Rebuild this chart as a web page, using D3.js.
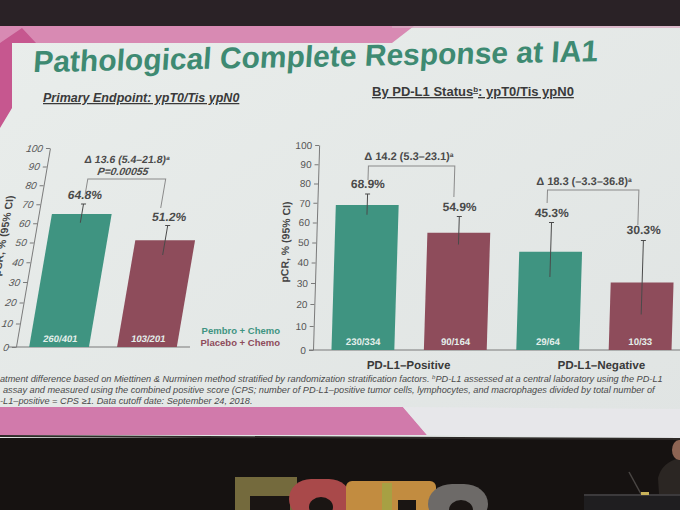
<!DOCTYPE html>
<html lang="en">
  <head>
    <meta charset="utf-8">
    <title>Pathological Complete Response at IA1</title>
    <script src="https://cdn.jsdelivr.net/npm/d3@7"></script>
    <style>
      body { margin: 0; background: #1b1716; }
      svg { display: block; font-family: "Liberation Sans", Arial, sans-serif; }
      .tick text { font-size: 10px; fill: #555; }
      .tick line, .domain { stroke: #7a7a7a; }
    </style>
  </head>
  <body>
    <div id="chart"></div>

    <script>
      // ---- data ----
      var arms = ["Pembro + Chemo", "Placebo + Chemo"];
      var armColors = ["#3f9481", "#8e4c5b"];

      // primary endpoint (ITT)
      var ittValues = [64.8, 51.2];
      var ittLow = [60.3, 43.6];
      var ittHigh = [70.1, 58.8];
      var ittCounts = ["260/401", "103/201"];

      // by PD-L1 status
      var subgroups = ["PD-L1–Positive", "PD-L1–Negative"];
      var pdBars = ["pos-pembro", "pos-placebo", "neg-pembro", "neg-placebo"];
      var pdArm = [0, 1, 0, 1];
      var pdValues = [68.9, 54.9, 45.3, 30.3];
      var pdLow = [64.0, 49.0, 33.0, 15.2];
      var pdHigh = [74.5, 63.0, 60.0, 51.0];
      var pdCounts = ["230/334", "90/164", "29/64", "10/33"];

      var deltas = ["Δ 13.6 (5.4–21.8)", "Δ 14.2 (5.3–23.1)", "Δ 18.3 (–3.3–36.8)"];
      var pValue = "P=0.00055";
      var yTicks = [0, 10, 20, 30, 40, 50, 60, 70, 80, 90, 100];

      var footnotes = [
        "atment difference based on Miettinen & Nurminen method stratified by randomization stratification factors. |b|PD-L1 assessed at a central laboratory using the PD-L1",
        "assay and measured using the combined positive score (CPS; number of PD-L1–positive tumor cells, lymphocytes, and macrophages divided by total number of",
        "-L1–positive = CPS ≥1. Data cutoff date: September 24, 2018."
      ];

      var svg = d3.select("#chart").append("svg")
          .attr("width", 680)
          .attr("height", 510);

      // ---- room / screen backdrop ----
      svg.append("rect").attr("width", 680).attr("height", 510).attr("fill", "#161211");
      svg.append("rect").attr("width", 680).attr("height", 27).attr("fill", "#2a2226");

      var grad = svg.append("defs").append("linearGradient")
          .attr("id", "slide").attr("x1", 0).attr("y1", 0).attr("x2", 1).attr("y2", 1);
      grad.append("stop").attr("offset", 0).attr("stop-color", "#e9edeb");
      grad.append("stop").attr("offset", 1).attr("stop-color", "#e0e4e3");

      svg.append("rect").attr("x", 0).attr("y", 26).attr("width", 680).attr("height", 412)
          .attr("fill", "url(#slide)");

      // top pink strip
      svg.append("polygon").attr("points", "0,26 414,26 392,43 0,43").attr("fill", "#d88ab3");
      svg.append("polygon").attr("points", "0,43 22,28 36,43 12,43 12,108 0,128").attr("fill", "#c6578f");
      svg.append("line").attr("x1", 392).attr("y1", 27).attr("x2", 680).attr("y2", 27)
          .attr("stroke", "#d9a9c1").attr("stroke-width", 1.5);

      // bottom pink strip
      svg.append("polygon").attr("points", "0,407 403,407 427,435 0,435").attr("fill", "#d17aab");
      svg.append("polygon").attr("points", "403,407 680,409 680,438 427,435").attr("fill", "#e7e7ea");
      svg.append("line").attr("x1", 0).attr("y1", 436).attr("x2", 680).attr("y2", 439)
          .attr("stroke", "#2e2a28").attr("stroke-width", 2);

      // ESMO letters on the stage
      var stage = svg.append("g");
      stage.append("rect").attr("x", 235).attr("y", 477).attr("width", 62).attr("height", 40).attr("fill", "#746a3d");
      stage.append("rect").attr("x", 250).attr("y", 496).attr("width", 40).attr("height", 20).attr("fill", "#1a1513");
      stage.append("rect").attr("x", 289).attr("y", 479).attr("width", 62).attr("height", 40).attr("rx", 22).attr("fill", "#a9494a");
      stage.append("ellipse").attr("cx", 321).attr("cy", 507).attr("rx", 12).attr("ry", 10).attr("fill", "#1a1513");
      stage.append("rect").attr("x", 346).attr("y", 481).attr("width", 90).attr("height", 40).attr("rx", 6).attr("fill", "#c28c40");
      stage.append("rect").attr("x", 382).attr("y", 483).attr("width", 10).attr("height", 30).attr("fill", "#a7a043");
      stage.append("rect").attr("x", 398).attr("y", 500).attr("width", 18).attr("height", 12).attr("fill", "#1a1513");
      stage.append("rect").attr("x", 428).attr("y", 484).attr("width", 60).attr("height", 40).attr("rx", 24).attr("fill", "#6d6a68");
      stage.append("ellipse").attr("cx", 461).attr("cy", 510).attr("rx", 12).attr("ry", 10).attr("fill", "#1a1513");

      // podium and speaker
      stage.append("line").attr("x1", 629).attr("y1", 472).attr("x2", 641).attr("y2", 494)
          .attr("stroke", "#4a4644").attr("stroke-width", 1.5);
      stage.append("path").attr("d", "M660,510 L658,478 Q662,462 680,458 L680,510 Z").attr("fill", "#2b2623");
      stage.append("ellipse").attr("cx", 679).attr("cy", 450).attr("rx", 7).attr("ry", 10).attr("fill", "#8d6453");
      stage.append("rect").attr("x", 584).attr("y", 494).attr("width", 96).attr("height", 16).attr("fill", "#1f1e20");
      stage.append("rect").attr("x", 584).attr("y", 494).attr("width", 96).attr("height", 2).attr("fill", "#3c3a3c");
      stage.append("rect").attr("x", 641).attr("y", 492).attr("width", 8).attr("height", 3).attr("fill", "#c9b35a");

      // ---- titles ----
      svg.append("text")
          .attr("x", 39).attr("y", 72)
          .attr("transform", "rotate(-1.1,39,72) skewX(-5)")
          .attr("font-size", 30).attr("font-weight", "bold").attr("fill", "#3e8a72")
          .text("Pathological Complete Response at IA1");

      svg.append("text")
          .attr("x", 43).attr("y", 102)
          .attr("font-size", 12.5).attr("font-weight", "bold").attr("font-style", "italic")
          .attr("fill", "#3a3a3a").attr("text-decoration", "underline")
          .text("Primary Endpoint: ypT0/Tis ypN0");

      var sub2 = svg.append("text")
          .attr("x", 372).attr("y", 96)
          .attr("font-size", 13).attr("font-weight", "bold")
          .attr("fill", "#3a3a3a").attr("text-decoration", "underline");
      sub2.append("tspan").text("By PD-L1 Status");
      sub2.append("tspan").attr("baseline-shift", "super").attr("font-size", 8).text("b");
      sub2.append("tspan").text(": ypT0/Tis ypN0");

      function deltaText(g, x, y, label, size) {
        var t = g.append("text").attr("x", x).attr("y", y)
            .attr("text-anchor", "middle").attr("font-size", size)
            .attr("font-weight", "bold").attr("fill", "#4a4a4a");
        t.append("tspan").text(label + ")".slice(1));
        t.append("tspan").attr("baseline-shift", "super").attr("font-size", size * 0.6).text("a");
        return t;
      }

      function bracket(g, x1, x2, yTop, y1, y2) {
        g.append("path")
            .attr("d", "M" + x1 + "," + y1 + " V" + yTop + " H" + x2 + " V" + y2)
            .attr("fill", "none").attr("stroke", "#8a8a8a").attr("stroke-width", 1);
      }

      // ---- left chart: primary endpoint (skewed like the photo) ----
      var tL = -0.171, baseL = 347;
      var gL = svg.append("g")
          .attr("transform", "translate(" + (-tL * baseL) + ",0) skewX(" + (Math.atan(tL) * 180 / Math.PI) + ")");

      var yL = d3.scalePow().exponent(0.93).domain([0, 100]).range([347, 148]);
      var xL = d3.scaleBand().domain(arms).range([16, 190]).paddingInner(0.32).paddingOuter(0.15);

      gL.append("line").attr("x1", 8).attr("x2", 190).attr("y1", yL(0)).attr("y2", yL(0))
          .attr("stroke", "#7a7a7a");
      gL.append("g")
          .attr("transform", "translate(16,0)")
          .call(d3.axisLeft(yL).tickValues(yTicks).tickSize(4).tickSizeOuter(0))
          .selectAll("text").attr("font-style", "italic");

      gL.append("text")
          .attr("transform", "translate(-12,236) rotate(-90)")
          .attr("text-anchor", "middle").attr("font-size", 10.5).attr("font-weight", "bold")
          .attr("fill", "#444").text("pCR, % (95% CI)");

      var cL = arms.map(function(a) { return xL(a) + xL.bandwidth() / 2; });

      gL.selectAll("rect.bar").data(ittValues).enter().append("rect")
          .attr("class", "bar")
          .attr("x", function(d, i) { return xL(arms[i]); })
          .attr("y", function(d) { return yL(d); })
          .attr("width", xL.bandwidth())
          .attr("height", function(d) { return yL(0) - yL(d); })
          .attr("fill", function(d, i) { return armColors[i]; });

      ittValues.forEach(function(v, i) {
        gL.append("path")
            .attr("d", "M" + (cL[i] - 2.5) + "," + yL(ittHigh[i]) + " H" + (cL[i] + 2.5) +
                " M" + cL[i] + "," + yL(ittHigh[i]) + " V" + yL(ittLow[i]))
            .attr("stroke", "#4a4a4a").attr("stroke-width", 1).attr("fill", "none");
        gL.append("text").attr("x", cL[i]).attr("y", yL(ittHigh[i]) - 5)
            .attr("text-anchor", "middle").attr("font-size", 12).attr("font-weight", "bold")
            .attr("fill", "#4a4a4a").text(v.toFixed(1) + "%");
        gL.append("text").attr("x", cL[i]).attr("y", yL(0) - 5)
            .attr("text-anchor", "middle").attr("font-size", 9.5).attr("font-weight", "bold")
            .attr("fill", "#e4efeb").text(ittCounts[i]);
      });

      bracket(gL, cL[0], cL[1] - 10, yL(83.4), yL(75), yL(68));
      deltaText(gL, (cL[0] + cL[1]) / 2 - 8, yL(91.9), deltas[0], 10.5);
      gL.append("text").attr("x", (cL[0] + cL[1]) / 2 - 10).attr("y", yL(85.6))
          .attr("text-anchor", "middle").attr("font-size", 10.5).attr("font-weight", "bold")
          .attr("font-style", "italic").attr("fill", "#4a4a4a").text(pValue);

      // legend
      var legend = svg.append("g");
      arms.forEach(function(a, i) {
        legend.append("text").attr("x", 280).attr("y", 334 + i * 12)
            .attr("text-anchor", "end").attr("font-size", 9.5).attr("font-weight", "bold")
            .attr("fill", armColors[i]).text(a);
      });

      // ---- right chart: by PD-L1 status ----
      var tR = -0.03, baseR = 350;
      var gR = svg.append("g")
          .attr("transform", "translate(" + (-tR * baseR) + ",0) skewX(" + (Math.atan(tR) * 180 / Math.PI) + ")");

      var yR = d3.scalePow().exponent(0.93).domain([0, 100]).range([350, 145]);
      var xR = d3.scaleBand().domain(pdBars).range([313, 690]).paddingInner(0.32).paddingOuter(0.2);

      gR.append("line").attr("x1", 309).attr("x2", 680).attr("y1", yR(0)).attr("y2", yR(0))
          .attr("stroke", "#7a7a7a");
      gR.append("g")
          .attr("transform", "translate(313,0)")
          .call(d3.axisLeft(yR).tickValues(yTicks).tickSize(4).tickSizeOuter(0));

      gR.append("text")
          .attr("transform", "translate(286,242) rotate(-90)")
          .attr("text-anchor", "middle").attr("font-size", 10.5).attr("font-weight", "bold")
          .attr("fill", "#444").text("pCR, % (95% CI)");

      var cR = pdBars.map(function(b) { return xR(b) + xR.bandwidth() / 2; });

      gR.selectAll("rect.bar").data(pdValues).enter().append("rect")
          .attr("class", "bar")
          .attr("x", function(d, i) { return xR(pdBars[i]); })
          .attr("y", function(d) { return yR(d); })
          .attr("width", xR.bandwidth())
          .attr("height", function(d) { return yR(0) - yR(d); })
          .attr("fill", function(d, i) { return armColors[pdArm[i]]; });

      pdValues.forEach(function(v, i) {
        gR.append("path")
            .attr("d", "M" + (cR[i] - 2.5) + "," + yR(pdHigh[i]) + " H" + (cR[i] + 2.5) +
                " M" + cR[i] + "," + yR(pdHigh[i]) + " V" + yR(pdLow[i]))
            .attr("stroke", "#4a4a4a").attr("stroke-width", 1).attr("fill", "none");
        gR.append("text").attr("x", cR[i]).attr("y", yR(pdHigh[i]) - 6)
            .attr("text-anchor", "middle").attr("font-size", 12).attr("font-weight", "bold")
            .attr("fill", "#4a4a4a").text(v.toFixed(1) + "%");
        gR.append("text").attr("x", cR[i]).attr("y", yR(0) - 5)
            .attr("text-anchor", "middle").attr("font-size", 9.5).attr("font-weight", "bold")
            .attr("fill", "#e4efeb").text(pdCounts[i]);
      });

      bracket(gR, cR[0], cR[1] - 6, yR(89), yR(81.8), yR(73));
      deltaText(gR, (cR[0] + cR[1]) / 2 - 6, yR(92.2), deltas[1], 11);
      bracket(gR, cR[2] - 5, cR[3] - 6, yR(76.6), yR(69.9), yR(58.8));
      deltaText(gR, (cR[2] + cR[3]) / 2 - 15, yR(79.2), deltas[2], 11);

      subgroups.forEach(function(s, i) {
        var mid = (cR[i * 2] + cR[i * 2 + 1]) / 2;
        gR.append("text").attr("x", mid + i * 8).attr("y", 369)
            .attr("text-anchor", "middle").attr("font-size", 11.5).attr("font-weight", "bold")
            .attr("fill", "#3a3a3a").text(s);
      });

      // ---- footnotes ----
      var foot = svg.append("g").attr("font-size", 9.2).attr("font-style", "italic").attr("fill", "#4a4a4a");
      footnotes.forEach(function(line, i) {
        var t = foot.append("text").attr("x", i === 1 ? 3 : 0).attr("y", 382 + i * 10.8);
        line.split("|").forEach(function(part, j) {
          var span = t.append("tspan").text(part);
          if (j % 2 === 1) span.attr("baseline-shift", "super").attr("font-size", 6);
        });
      });
    </script>
  </body>
</html>
